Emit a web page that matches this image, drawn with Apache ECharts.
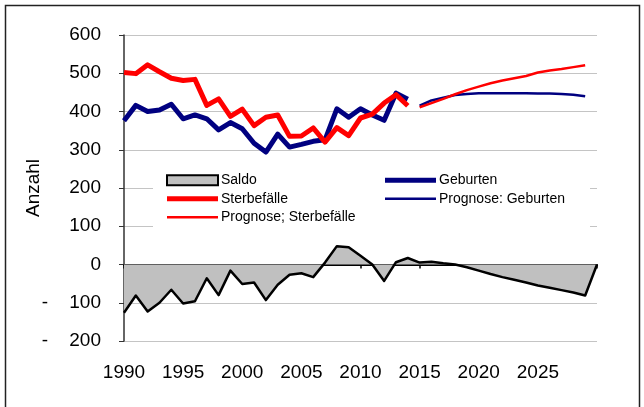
<!DOCTYPE html>
<html>
<head>
<meta charset="utf-8">
<script src="https://cdn.jsdelivr.net/npm/echarts@6/dist/echarts.min.js"></script>
<style>
html,body{margin:0;padding:0;background:#fff;}
#c{width:644px;height:407px;}
</style>
</head>
<body>
<div id="c"></div>
<script>
// ---- data ----
var histYears = [1990,1991,1992,1993,1994,1995,1996,1997,1998,1999,2000,2001,2002,2003,2004,2005,2006,2007,2008,2009,2010,2011,2012,2013,2014];
var progYears = [2015,2016,2017,2018,2019,2020,2021,2022,2023,2024,2025,2026,2027,2028,2029];
var saldoYears = [1990,1991,1992,1993,1994,1995,1996,1997,1998,1999,2000,2001,2002,2003,2004,2005,2006,2007,2008,2009,2010,2011,2012,2013,2014,2015,2016,2017,2018,2019,2020,2021,2022,2023,2024,2025,2026,2027,2028,2029,2030];

var geburten = [376,416,400,404,419,381,391,381,352,371,355,317,294,341,307,314,322,326,407,385,407,391,377,448,432];
var sterbefaelle = [502,499,522,504,487,481,484,416,433,387,406,363,385,391,335,336,357,320,358,337,383,393,422,444,415];
var progGeburten = [415,429,436,443,446,448,448,448,448,448,447,447,446,444,440];
var progSterbefaelle = [411,422,433,445,456,465,474,481,487,493,502,507,511,516,521];
var saldo = [-126,-81,-123,-100,-66,-102,-96,-36,-80,-16,-51,-47,-93,-53,-27,-23,-33,5,48,45,23,0,-43,6,17,5,7,3,0,-7,-16,-25,-33,-40,-47,-55,-61,-67,-73,-81,0];

var yTicks = [-200,-100,0,100,200,300,400,500,600];
var xTickLabels = [1990,1995,2000,2005,2010,2015,2020,2025];

function zip(xs, ys){ return xs.map(function(x,i){ return [x, ys[i]]; }); }

var FONT = "'Liberation Sans', Arial, sans-serif";
var THICK = 'path://M0,0h51v5h-51z';
var THIN = 'path://M0,0h51v2.5h-51z';
var chart = echarts.init(document.getElementById('c'), null, {renderer:'canvas'});

chart.setOption({
  animation:false,
  backgroundColor:'#fff',
  textStyle:{fontFamily:FONT},
  grid:{left:124, right:47, top:35, bottom:66, containLabel:false},
  graphic:[
    {type:'rect', z:-10, shape:{x:5.5,y:5.5,width:634,height:410}, style:{fill:'#fff', stroke:'#222', lineWidth:1.5}},
    {type:'rect', z:1, shape:{x:153,y:168,width:437,height:61}, style:{fill:'#fff'}}
  ],
  xAxis:[
    {type:'value', min:1990, max:2030, interval:5, position:'bottom',
     axisLine:{show:true, onZero:true, lineStyle:{color:'#000', width:2}},
     axisTick:{show:true, length:4, lineStyle:{color:'#000', width:1.5}},
     axisLabel:{show:false}, splitLine:{show:false}},
    {type:'value', min:1990, max:2030, interval:5, position:'bottom',
     axisLine:{show:false, onZero:false}, axisTick:{show:false}, splitLine:{show:false},
     axisLabel:{show:true, margin:22, color:'#000', fontSize:19, fontFamily:FONT,
       formatter:function(v){ return xTickLabels.indexOf(v) >= 0 ? String(v) : ''; }}}
  ],
  yAxis:{type:'value', min:yTicks[0], max:yTicks[yTicks.length-1], interval:100,
    name:'Anzahl', nameLocation:'middle', nameGap:81, nameRotate:90, nameMoveOverlap:false,
    nameTextStyle:{color:'#000', fontSize:19, fontFamily:FONT},
    axisLine:{show:true, lineStyle:{color:'#333', width:1.5}},
    axisTick:{show:true, length:5, lineStyle:{color:'#333', width:1}},
    axisLabel:{margin:23, color:'#000', fontSize:19, fontFamily:FONT,
      formatter:function(v){ return v < 0 ? '-    ' + Math.abs(v) : String(v); }},
    splitLine:{show:true, lineStyle:{color:'#c4c4c4', width:1}}
  },
  legend:[
    {selectedMode:false, orient:'vertical', left:166, top:171, padding:0, itemWidth:51, itemHeight:10, itemGap:0,
     textStyle:{fontSize:14, color:'#000', fontFamily:FONT, lineHeight:18.5, padding:[0,0,0,-2]},
     data:[
       {name:'Saldo', icon:'rect', itemStyle:{color:'#c0c0c0', borderColor:'#000', borderWidth:2}},
       {name:'Sterbefälle', icon:THICK, itemStyle:{color:'#ff0000', borderWidth:0}},
       {name:'Prognose; Sterbefälle', icon:THIN, itemStyle:{color:'#ff0000', borderWidth:0}}
     ]},
    {selectedMode:false, orient:'vertical', left:385, top:171, padding:0, itemWidth:51, itemHeight:10, itemGap:0,
     textStyle:{fontSize:14, color:'#000', fontFamily:FONT, lineHeight:18.5, padding:[0,0,0,-2]},
     data:[
       {name:'Geburten', icon:THICK, itemStyle:{color:'#000080', borderWidth:0}},
       {name:'Prognose: Geburten', icon:THIN, itemStyle:{color:'#000080', borderWidth:0}}
     ]}
  ],
  series:[
    {name:'Saldo', type:'line', xAxisIndex:0, data:zip(saldoYears, saldo), symbol:'none',
     itemStyle:{color:'#c0c0c0'},
     lineStyle:{color:'#000', width:2.5, join:'round'},
     areaStyle:{color:'#c0c0c0', opacity:1, origin:0}, z:2},
    {name:'Geburten', type:'line', xAxisIndex:0, data:zip(histYears, geburten), symbol:'none',
     itemStyle:{color:'#000080'}, lineStyle:{color:'#000080', width:5, join:'round'}, z:3},
    {name:'Sterbefälle', type:'line', xAxisIndex:0, data:zip(histYears, sterbefaelle), symbol:'none',
     itemStyle:{color:'#ff0000'}, lineStyle:{color:'#ff0000', width:5, join:'round'}, z:4},
    {name:'Prognose: Geburten', type:'line', xAxisIndex:0, data:zip(progYears, progGeburten), symbol:'none',
     itemStyle:{color:'#000080'}, lineStyle:{color:'#000080', width:2.5, join:'round'}, z:3},
    {name:'Prognose; Sterbefälle', type:'line', xAxisIndex:0, data:zip(progYears, progSterbefaelle), symbol:'none',
     itemStyle:{color:'#ff0000'}, lineStyle:{color:'#ff0000', width:2.5, join:'round'}, z:4}
  ]
});
</script>
</body>
</html>
